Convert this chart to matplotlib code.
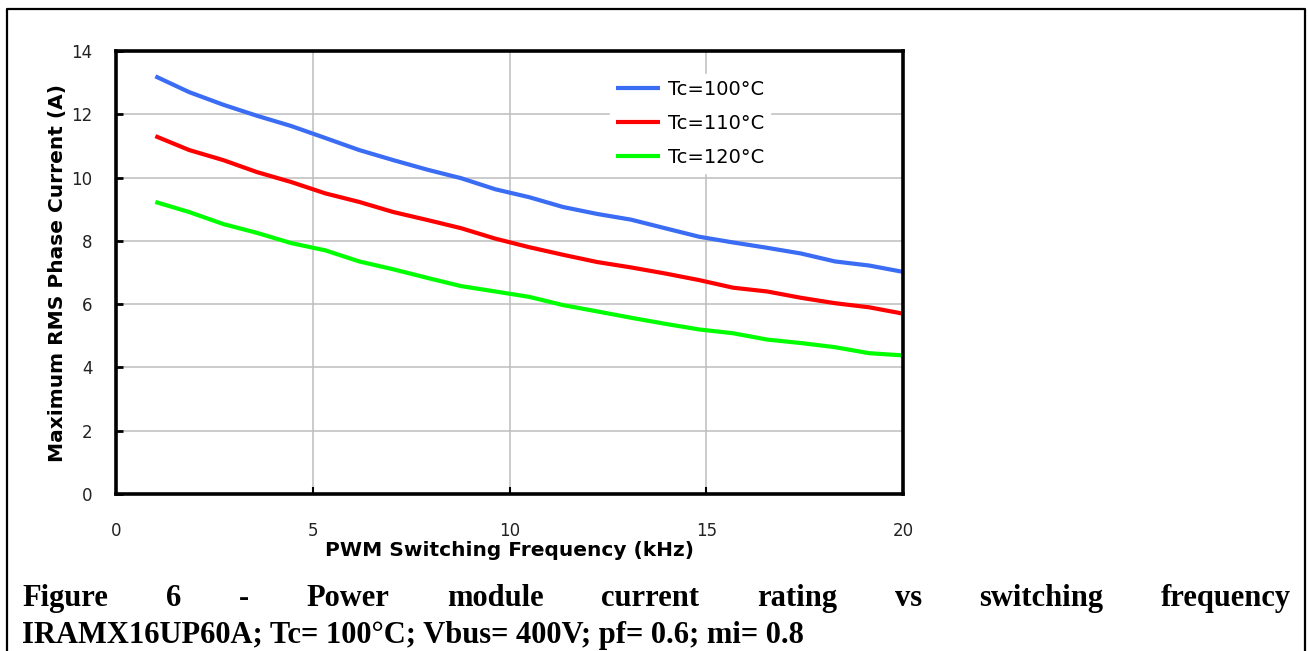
import matplotlib
matplotlib.use("Agg")
from matplotlib import pyplot as plt

# switching frequency (kHz) and maximum RMS phase current (A) per case temperature
freq_khz = [1.0, 1.86, 2.73, 3.59, 4.45, 5.32, 6.18, 7.05, 7.91, 8.77, 9.64, 10.5,
            11.36, 12.23, 13.09, 13.95, 14.82, 15.68, 16.55, 17.41, 18.27, 19.14, 20.0]
current_100 = [13.2, 12.7, 12.3, 11.95, 11.63, 11.25, 10.87, 10.55, 10.25, 9.98, 9.63, 9.38,
               9.07, 8.85, 8.67, 8.4, 8.13, 7.95, 7.78, 7.6, 7.35, 7.22, 7.02]
current_110 = [11.31, 10.87, 10.55, 10.17, 9.86, 9.5, 9.23, 8.91, 8.66, 8.4, 8.07, 7.8,
               7.56, 7.33, 7.16, 6.97, 6.76, 6.52, 6.4, 6.2, 6.03, 5.9, 5.7]
current_120 = [9.23, 8.91, 8.53, 8.25, 7.93, 7.7, 7.35, 7.1, 6.83, 6.57, 6.4, 6.23,
               5.97, 5.77, 5.57, 5.38, 5.2, 5.08, 4.88, 4.77, 4.64, 4.45, 4.38]

series = [
    ("Tc=100°C", current_100, "#3a6cf4"),
    ("Tc=110°C", current_110, "#ff0000"),
    ("Tc=120°C", current_120, "#00ff00"),
]
x_ticks = [0, 5, 10, 15, 20]
y_ticks = [0, 2, 4, 6, 8, 10, 12, 14]

caption_words = ["Figure", "6", "-", "Power", "module", "current", "rating", "vs",
                 "switching", "frequency"]
caption_line2 = "IRAMX16UP60A; Tc= 100°C; Vbus= 400V; pf= 0.6; mi= 0.8"

W, H = 1308, 651
fig = plt.figure(figsize=(W / 100, H / 100), dpi=100)

# page frame around the figure block (open at the bottom)
frame_x = [7 / W, 7 / W, 1305 / W, 1305 / W]
frame_y = [0, 1 - 9 / H, 1 - 9 / H, 0]
fig.add_artist(plt.Line2D(frame_x, frame_y, color="black", lw=1.6,
                          transform=fig.transFigure))

ax = fig.add_axes([116 / W, 1 - 494 / H, (903 - 116) / W, (494 - 51) / H])

for label, values, color in series:
    ax.plot(freq_khz, values, color=color, lw=3.0, label=label, solid_capstyle="butt")

ax.set_xlim(0, 20)
ax.set_ylim(0, 14)
ax.set_xticks(x_ticks)
ax.set_yticks(y_ticks)
ax.grid(True, color="#bdbdbd", lw=1.1)
ax.set_axisbelow(True)
for side in ax.spines.values():
    side.set_linewidth(2.6)
    side.set_color("black")

ax.tick_params(axis="y", direction="in", length=5, width=2, pad=17, labelsize=12,
               labelcolor="#222222")
ax.tick_params(axis="x", direction="in", length=5, width=1.5, pad=20, labelsize=12,
               labelcolor="#222222")
for t in ax.get_xticklabels() + ax.get_yticklabels():
    t.set_family("DejaVu Sans")

ax.set_xlabel("PWM Switching Frequency (kHz)", family="DejaVu Sans", weight="bold",
              fontsize=14.5, labelpad=1)
ax.set_ylabel("Maximum RMS Phase Current (A)", family="DejaVu Sans", weight="bold",
              fontsize=14.5, labelpad=3)

leg = ax.legend(loc="upper left", bbox_to_anchor=(0.615, 0.97), frameon=True,
                prop={"family": "DejaVu Sans", "size": 14}, handlelength=2.3,
                labelspacing=0.78, handletextpad=0.4, borderpad=0.3, fancybox=False)
leg.get_frame().set_edgecolor("white")
leg.get_frame().set_facecolor("white")
leg.get_frame().set_alpha(1.0)

# justified first caption line
cap_font = {"family": "Liberation Serif", "weight": "bold", "size": 22}
left_px, right_px, y1_px, y2_px = 22, 1291, 606, 643
fig.canvas.draw()
renderer = fig.canvas.get_renderer()
widths = []
for word in caption_words:
    t = fig.text(0, 0, word, **cap_font)
    widths.append(t.get_window_extent(renderer).width)
    t.remove()
gap = (right_px - left_px - sum(widths)) / (len(caption_words) - 1)
x_px = left_px
for word, w in zip(caption_words, widths):
    fig.text(x_px / W, 1 - y1_px / H, word, va="baseline", ha="left", **cap_font)
    x_px += w + gap
fig.text(left_px / W, 1 - y2_px / H, caption_line2, va="baseline", ha="left", **cap_font)

fig.savefig("out.png", dpi=100)
